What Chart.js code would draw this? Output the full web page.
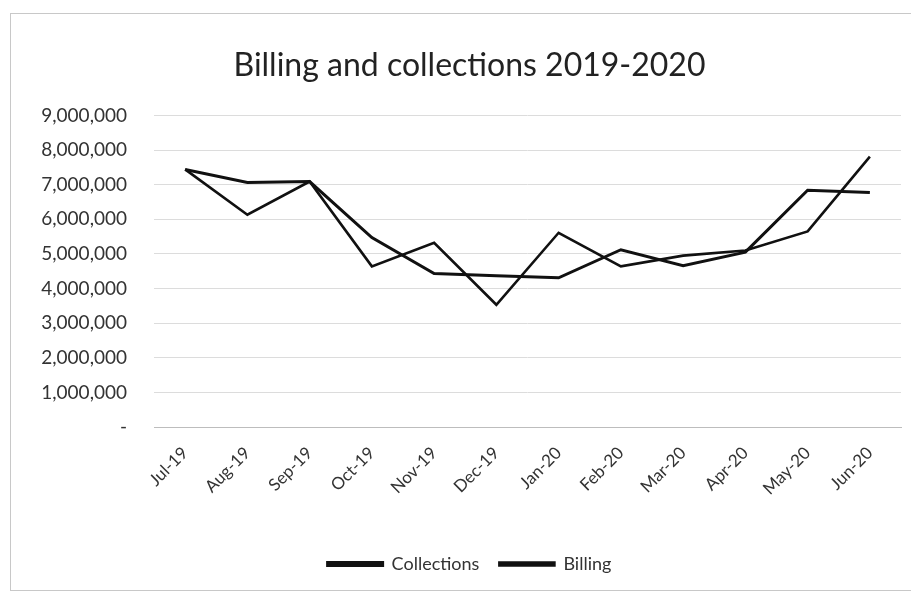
<!DOCTYPE html>
<html>
<head>
<meta charset="utf-8">
<script src="https://cdn.jsdelivr.net/npm/chart.js@4"></script>
<style>
  html, body { margin: 0; padding: 0; background: #fff; }
  #wrap { position: relative; width: 911px; height: 596px; }
  #frame { position: absolute; left: 10px; top: 13px; width: 905px; height: 578px; border: 1px solid #c8c8c8; box-sizing: border-box; }
</style>
</head>
<body>
<div id="wrap">
  <div id="frame"></div>
  <canvas id="myChart" width="911" height="596"></canvas>
</div>
<script>
// 데이터
const months = ['Jul-19', 'Aug-19', 'Sep-19', 'Oct-19', 'Nov-19', 'Dec-19',
                'Jan-20', 'Feb-20', 'Mar-20', 'Apr-20', 'May-20', 'Jun-20'];
const collections = [7440000, 7060000, 7090000, 5470000, 4430000, 4370000,
                     4310000, 5120000, 4660000, 5050000, 6840000, 6770000];
const billing = [7440000, 6130000, 7090000, 4640000, 5320000, 3530000,
                 5610000, 4640000, 4950000, 5100000, 5650000, 7810000];
const yMax = 9000000;
const yStep = 1000000;

const fontFamily = "Lato, 'Open Sans', sans-serif";

let ctx = document.getElementById('myChart');

let config = {
  type: 'line',
  data: {
    labels: months,
    datasets: [
      {
        label: 'Collections',
        data: collections,
        borderColor: '#111',
        backgroundColor: '#111',
        borderWidth: 3,
        pointRadius: 0,
        tension: 0
      },
      {
        label: 'Billing',
        data: billing,
        borderColor: '#111',
        backgroundColor: '#111',
        borderWidth: 2.6,
        pointRadius: 0,
        tension: 0
      }
    ]
  },
  options: {
    responsive: false,
    animation: false,
    layout: { padding: { top: 13, right: 10, bottom: 13, left: 38 } },
    plugins: {
      title: {
        display: true,
        text: 'Billing and collections 2019-2020',
        color: '#222',
        font: { family: fontFamily, size: 32, weight: 'normal' },
        padding: { top: 33, bottom: 31 }
      },
      legend: {
        position: 'bottom',
        labels: {
          color: '#333',
          font: { family: fontFamily, size: 18 },
          boxWidth: 55,
          boxHeight: 3,
          padding: 20
        }
      },
      tooltip: { enabled: false }
    },
    scales: {
      x: {
        offset: true,
        afterFit: function (scale) { scale.height = 108; },
        grid: { display: false, drawTicks: false },
        border: { color: '#bdbdbd', width: 1 },
        ticks: {
          color: '#333',
          font: { family: fontFamily, size: 17 },
          minRotation: 45,
          maxRotation: 45,
          padding: 16
        }
      },
      y: {
        min: 0,
        max: yMax,
        afterFit: function (scale) { scale.width = 116; },
        grid: { color: '#dcdcdc', drawTicks: false },
        border: { display: false },
        ticks: {
          stepSize: yStep,
          color: '#333',
          font: { family: fontFamily, size: 19 },
          padding: 27,
          callback: function (v) { return v === 0 ? '-' : v.toLocaleString('en-US'); }
        }
      }
    }
  }
};

let myChart = new Chart(ctx, config);
</script>
</body>
</html>
